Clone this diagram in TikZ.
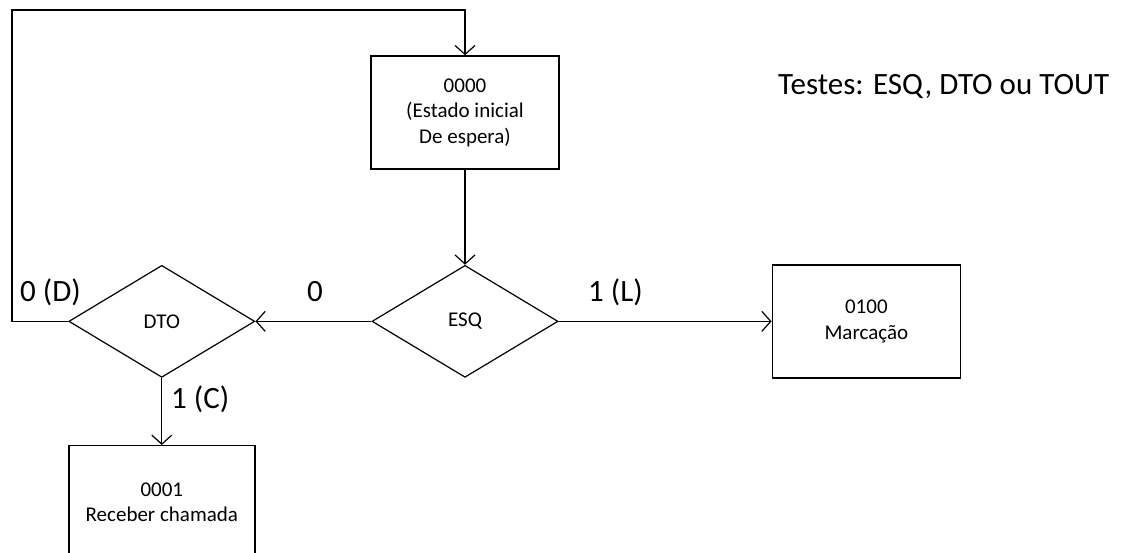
\documentclass[tikz,border=0pt]{standalone}
\usepackage{fontspec}
\setmainfont{Carlito}
\usetikzlibrary{arrows.meta,positioning,shapes.geometric}

\begin{document}
\begin{tikzpicture}[
  x=1pt, y=-1pt,
  estado/.style={draw, line width=1.5pt, minimum width=188pt, minimum height=113pt, align=center, inner sep=2pt, font=\fontsize{21}{25.5}\selectfont},
  teste/.style={draw, diamond, line width=1.2pt, minimum width=186pt, minimum height=112pt, inner sep=0pt, font=\fontsize{21}{25.5}\selectfont},
  rotulo/.style={inner sep=0pt, font=\fontsize{31}{36}\selectfont},
  seta/.style={-{Straight Barb[length=9pt,width=20pt]}, line width=1.2pt}
]
\useasboundingbox (0,0) rectangle (1136,553);

\node[estado] (s0000) at (465,112.5) {0000\\(Estado inicial\\De espera)};
\node[teste, below=95pt of s0000] (esq) {ESQ};
\node[teste, left=116pt of esq] (dto) {DTO};
\node[estado, right=213pt of esq] (s0100) {0100\\Marcação};
\node[estado, minimum width=186pt, below=67pt of dto] (s0001) {0001\\Receber chamada};

\coordinate (canto) at (12,10);
\draw[seta] (s0000) -- (esq);
\draw[seta] (esq) -- (dto);
\draw[seta] (esq) -- (s0100);
\draw[seta] (dto) -- (s0001);
\draw[seta] (dto.west) -| (canto) -| (s0000.north);

\node[rotulo, anchor=base west] (lD) at (20,302) {0 (D)};
\node[rotulo, anchor=base] (l0) at (315,302) {0};
\node[rotulo, anchor=base west] (lL) at (588,302) {1 (L)};
\node[rotulo, anchor=base west] (lC) at (171,409) {1 (C)};
\node[rotulo, anchor=base west] (testes) at (778,95) {Testes: ESQ, DTO ou TOUT};
\end{tikzpicture}
\end{document}
